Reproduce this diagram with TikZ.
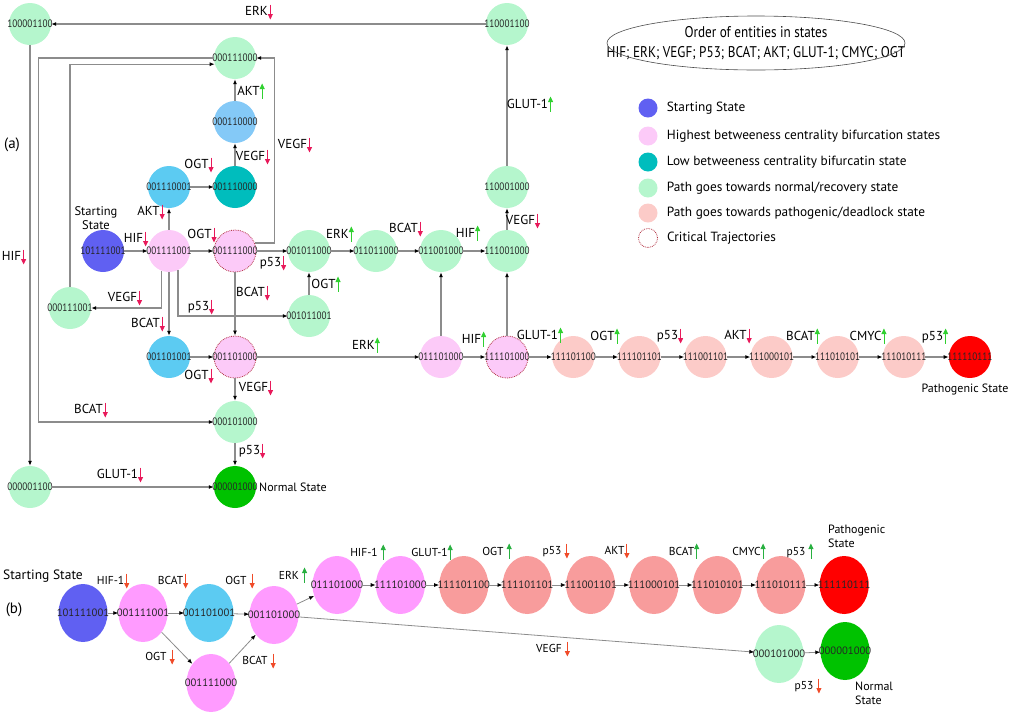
\documentclass[tikz,border=0pt]{standalone}
\usepackage{fontspec}
\setmainfont{PT Sans}
\newfontfamily\condfont[FakeStretch=0.85]{PT Sans}
\usetikzlibrary{shapes.geometric, arrows.meta, positioning}

\definecolor{startblue}{HTML}{6060F2}
\definecolor{pinka}{HTML}{FCCAF8}
\definecolor{pinkb}{HTML}{FF9BFF}
\definecolor{cyanst}{HTML}{5CCBF2}
\definecolor{lbluest}{HTML}{84C9F7}
\definecolor{tealst}{HTML}{00BDBD}
\definecolor{lgreen}{HTML}{B5F6CD}
\definecolor{lred}{HTML}{FCCBC8}
\definecolor{salmon}{HTML}{F89C9C}
\definecolor{redst}{HTML}{FF0000}
\definecolor{dgreen}{HTML}{00C200}
\definecolor{critred}{HTML}{B03040}
\definecolor{linkgray}{HTML}{8C8C8C}
\definecolor{dnred}{HTML}{E8195A}
\definecolor{dnorange}{HTML}{F04A28}
\definecolor{upgreen}{HTML}{30D030}
\definecolor{upgreenb}{HTML}{28B040}

% little up / down arrows after the entity names
\newcommand{\arrdn}[1][dnred]{\tikz[baseline=0pt]\draw[#1, line width=.9pt, -{Triangle[width=5pt, length=5.5pt]}] (0pt,11pt) -- (0pt,-4pt);}
\newcommand{\arrup}[1][upgreen]{\tikz[baseline=0pt]\draw[#1, line width=.8pt, -{Triangle[width=5pt, length=5.5pt]}] (0pt,-3pt) -- (0pt,12pt);}

\begin{document}
\begin{tikzpicture}[x=1pt, y=-1pt,
st/.style={circle, minimum size=42pt, inner sep=-3pt, text=black!85,
font=\condfont\fontsize{10.8}{11}\selectfont},
st-start/.style={st, fill=startblue},
st-pink/.style={st, fill=pinka},
st-cyan/.style={st, fill=cyanst},
st-lblue/.style={st, fill=lbluest},
st-teal/.style={st, fill=tealst},
st-green/.style={st, fill=lgreen},
st-lred/.style={st, fill=lred},
st-red/.style={st, fill=redst},
st-dgreen/.style={st, fill=dgreen},
crit/.style={draw=critred, densely dotted, line width=.8pt},
el/.style={ellipse, minimum width=49pt, minimum height=58pt, inner xsep=-9pt, inner ysep=0pt,
text=black!85, font=\fontsize{10.7}{11}\selectfont},
el-start/.style={el, fill=startblue},
el-pink/.style={el, fill=pinkb},
el-cyan/.style={el, fill=cyanst},
el-salmon/.style={el, fill=salmon},
el-red/.style={el, fill=redst},
el-green/.style={el, fill=lgreen},
el-dgreen/.style={el, fill=dgreen},
link/.style={draw=linkgray, line width=1.2pt, -{Latex[black, length=5pt, width=4pt]}},
link-b/.style={link, line width=.8pt},
lbl/.style={inner sep=0pt, font=\fontsize{13}{14}\selectfont},
lbl-b/.style={inner sep=0pt, font=\fontsize{11.5}{13}\selectfont},
txt/.style={inner sep=0pt, font=\fontsize{12}{14}\selectfont},
leg-dot/.style={circle, minimum size=19pt, inner sep=0pt},
leg-txt/.style={inner sep=0pt, font=\fontsize{13.3}{14}\selectfont}
]
\useasboundingbox (0,0) rectangle (1010,713);

% (a) states
\node [st-green] (a-100001100) at (30,24) {100001100};
\node [st-green] (a-110001100) at (507,24) {110001100};
\node [st-green] (a-000111000) at (235,58) {000111000};
\node [st-lblue] (a-000110000) at (235,122) {000110000};
\node [st-cyan] (a-001110001) at (169,187) {001110001};
\node [st-teal] (a-001110000) at (235,187) {001110000};
\node [st-green] (a-110001000) at (507,187) {110001000};
\node [st-start] (a-101111001) at (103,251) {101111001};
\node [st-pink] (a-001111001) at (169,251) {001111001};
\node [st-pink, crit] (a-001111000) at (235,251) {001111000};
\node [st-green] (a-001011000) at (309,251) {001011000};
\node [st-green] (a-011011000) at (376,251) {011011000};
\node [st-green] (a-011001000) at (441,251) {011001000};
\node [st-green] (a-111001000) at (507,251) {111001000};
\node [st-green] (a-000111001) at (70,308) {000111001};
\node [st-green] (a-001011001) at (309,316) {001011001};
\node [st-cyan] (a-001101001) at (169,357) {001101001};
\node [st-pink, crit] (a-001101000) at (235,357) {001101000};
\node [st-pink] (a-011101000) at (441,357) {011101000};
\node [st-pink, crit] (a-111101000) at (507,357) {111101000};
\node [st-lred, right=23.7pt of a-111101000] (a-111101100) {111101100};
\node [st-lred, right=23.7pt of a-111101100] (a-111101101) {111101101};
\node [st-lred, right=23.7pt of a-111101101] (a-111001101) {111001101};
\node [st-lred, right=23.7pt of a-111001101] (a-111000101) {111000101};
\node [st-lred, right=23.7pt of a-111000101] (a-111010101) {111010101};
\node [st-lred, right=23.7pt of a-111010101] (a-111010111) {111010111};
\node [st-red, right=23.7pt of a-111010111] (a-111110111) {111110111};
\node [st-green] (a-000101000) at (235,422) {000101000};
\node [st-green] (a-000001100) at (30,487) {000001100};
\node [st-dgreen] (a-000001000) at (235,487) {000001000};

\node [txt, font=\fontsize{15}{16}\selectfont] (a-tag) at (12,145) {(a)};
\node [txt, font=\fontsize{12.5}{14}\selectfont, align=center] (a-start-txt) at (96,218) {Starting\\State};
\node [txt, anchor=west] (a-normal-txt) at (259,487) {Normal State};
\node [txt] (a-patho-txt) at (965,389) {Pathogenic State};

% (a) transitions
\draw [link] (a-101111001) -- (a-001111001);
\draw [link] (a-001111001) -- (a-001111000);
\draw [link] (a-001111000) -- (a-001011000);
\draw [link] (a-001011000) -- (a-011011000);
\draw [link] (a-011011000) -- (a-011001000);
\draw [link] (a-011001000) -- (a-111001000);
\draw [link] (a-111001000) -- (a-110001000);
\draw [link] (a-110001000) -- (a-110001100);
\draw [link] (a-110001100) -- (a-100001100);
\draw [link] (a-100001100) -- (a-000001100);
\draw [link] (a-000001100) -- (a-000001000);
\draw [link] (a-000101000) -- (a-000001000);
\draw [link] (a-001101000) -- (a-000101000);
\draw [link] (a-001101001) -- (a-001101000);
\draw [link] (a-001111001) -- (a-001101001);
\draw [link] (a-001111000) -- (a-001101000);
\draw [link] (a-001111001) -- (a-001110001);
\draw [link] (a-001110001) -- (a-001110000);
\draw [link] (a-001110000) -- (a-000110000);
\draw [link] (a-000110000) -- (a-000111000);
\draw [link] (a-001111000.22) -- ++(20,0) |- (a-000111000);
\draw [link] (a-000111000.west) -- ++(-175,0) |- (a-000101000);
\draw [link] (a-000111001.north) |- (a-000111000.197);
\draw [link] (a-001111001.250) |- (a-000111001);
\draw [link] (a-001111001.295) |- (a-001011001);
\draw [link] (a-001011001) -- (a-001011000);
\draw [link] (a-001101000) -- (a-011101000);
\draw [link] (a-011101000) -- (a-111101000);
\draw [link] (a-011101000) -- (a-011001000);
\draw [link] (a-111101000) -- (a-111001000);
\draw [link] (a-111101000) -- (a-111101100);
\draw [link] (a-111101100) -- (a-111101101);
\draw [link] (a-111101101) -- (a-111001101);
\draw [link] (a-111001101) -- (a-111000101);
\draw [link] (a-111000101) -- (a-111010101);
\draw [link] (a-111010101) -- (a-111010111);
\draw [link] (a-111010111) -- (a-111110111);

% (a) labels
\node [lbl] (a-l-erk1) at (259,12) {ERK\arrdn};
\node [lbl] (a-l-hif1) at (14,257) {HIF\arrdn};
\node [lbl] (a-l-glut1) at (530,104) {GLUT-1\arrup};
\node [lbl] (a-l-vegf1) at (295,145) {VEGF\arrdn};
\node [lbl] (a-l-akt1) at (251,91) {AKT\arrup};
\node [lbl] (a-l-vegf2) at (253,157) {VEGF\arrdn};
\node [lbl] (a-l-ogt1) at (199,165) {OGT\arrdn};
\node [lbl] (a-l-akt2) at (151,212) {AKT\arrdn};
\node [lbl] (a-l-hif2) at (136,239) {HIF\arrdn};
\node [lbl] (a-l-ogt2) at (202,235) {OGT\arrdn};
\node [lbl] (a-l-erk2) at (340,234) {ERK\arrup};
\node [lbl] (a-l-bcat1) at (406,229) {BCAT\arrdn};
\node [lbl] (a-l-hif3) at (468,233) {HIF\arrup};
\node [lbl] (a-l-vegf3) at (523,221) {VEGF\arrdn};
\node [lbl] (a-l-p531) at (273,263) {p53\arrdn};
\node [lbl] (a-l-ogt3) at (326,284) {OGT\arrup};
\node [lbl] (a-l-bcat2) at (253,293) {BCAT\arrdn};
\node [lbl] (a-l-vegf4) at (125,298) {VEGF\arrdn};
\node [lbl] (a-l-p532) at (201,307) {p53\arrdn};
\node [lbl] (a-l-bcat3) at (148,324) {BCAT\arrdn};
\node [lbl] (a-l-ogt4) at (199,376) {OGT\arrdn};
\node [lbl] (a-l-vegf5) at (256,388) {VEGF\arrdn};
\node [lbl] (a-l-erk3) at (366,345) {ERK\arrup};
\node [lbl] (a-l-bcat4) at (91,410) {BCAT\arrdn};
\node [lbl] (a-l-p533) at (252,451) {p53\arrdn};
\node [lbl] (a-l-glut2) at (120,475) {GLUT-1\arrdn};
\node [lbl] (a-l-hif4) at (474,339) {HIF\arrup};
\node [lbl] (a-l-glut3) at (540,335) {GLUT-1\arrup};
\node [lbl] (a-l-ogt5) at (605,336) {OGT\arrup};
\node [lbl] (a-l-p534) at (670,336) {p53\arrdn};
\node [lbl] (a-l-akt3) at (738,336) {AKT\arrdn};
\node [lbl] (a-l-bcat5) at (803,336) {BCAT\arrup};
\node [lbl] (a-l-cmyc) at (868,336) {CMYC\arrup};
\node [lbl] (a-l-p535) at (935,336) {p53\arrup};

% legend
\node [inner sep=0pt, align=center, font=\condfont\fontsize{15.5}{20}\selectfont]
(order) at (756,43) {Order of entities in states\\HIF; ERK; VEGF; P53; BCAT; AKT; GLUT-1; CMYC; OGT};
\draw [black!70, line width=.6pt] (order.center) ellipse [x radius=149pt, y radius=27pt];
\node [leg-dot, fill=startblue] (leg-start) at (648,108) {};
\node [leg-dot, fill=pinka] (leg-pink) at (648,136) {};
\node [leg-dot, fill=tealst] (leg-teal) at (648,162) {};
\node [leg-dot, fill=lgreen] (leg-green) at (648,188) {};
\node [leg-dot, fill=lred] (leg-red) at (648,213) {};
\node [leg-dot, crit] (leg-crit) at (648,238) {};
\node [leg-txt, right=9pt of leg-start] (leg-start-txt) {Starting State};
\node [leg-txt, right=9pt of leg-pink] (leg-pink-txt) {Highest betweeness centrality bifurcation states};
\node [leg-txt, right=9pt of leg-teal] (leg-teal-txt) {Low betweeness centrality bifurcatin state};
\node [leg-txt, right=9pt of leg-green] (leg-green-txt) {Path goes towards normal/recovery state};
\node [leg-txt, right=9pt of leg-red] (leg-red-txt) {Path goes towards pathogenic/deadlock state};
\node [leg-txt, right=9pt of leg-crit] (leg-crit-txt) {Critical Trajectories};

% (b) states
\node [el-start] (b-101111001) at (83,613) {101111001};
\node [el-pink] (b-001111001) at (143,613) {001111001};
\node [el-cyan] (b-001101001) at (209,613) {001101001};
\node [el-pink] (b-001101000) at (274,615) {001101000};
\node [el-pink] (b-001111000) at (211,683) {001111000};
\node [el-pink] (b-011101000) at (337,585) {011101000};
\node [el-pink, right=14pt of b-011101000] (b-111101000) {111101000};
\node [el-salmon, right=14pt of b-111101000] (b-111101100) {111101100};
\node [el-salmon, right=14pt of b-111101100] (b-111101101) {111101101};
\node [el-salmon, right=14pt of b-111101101] (b-111001101) {111001101};
\node [el-salmon, right=14pt of b-111001101] (b-111000101) {111000101};
\node [el-salmon, right=14pt of b-111000101] (b-111010101) {111010101};
\node [el-salmon, right=14pt of b-111010101] (b-111010111) {111010111};
\node [el-red, right=14pt of b-111010111] (b-111110111) {111110111};
\node [el-green] (b-000101000) at (779,654) {000101000};
\node [el-dgreen] (b-000001000) at (845,651) {000001000};

\node [txt, font=\fontsize{15}{16}\selectfont] (b-tag) at (14,610) {(b)};
\node [txt, font=\fontsize{13.5}{15}\selectfont] (b-start-txt) at (43,576) {Starting State};
\node [txt, align=left, anchor=west] (b-patho-txt) at (828,536) {Pathogenic\\State};
\node [txt, align=left, anchor=west] (b-normal-txt) at (855,693) {Normal\\State};

% (b) transitions
\draw [link-b] (b-101111001) -- (b-001111001);
\draw [link-b] (b-001111001) -- (b-001101001);
\draw [link-b] (b-001101001) -- (b-001101000);
\draw [link-b] (b-001111001) -- (b-001111000);
\draw [link-b] (b-001111000) -- (b-001101000);
\draw [link-b] (b-001101000) -- (b-011101000);
\draw [link-b] (b-011101000) -- (b-111101000);
\draw [link-b] (b-111101000) -- (b-111101100);
\draw [link-b] (b-111101100) -- (b-111101101);
\draw [link-b] (b-111101101) -- (b-111001101);
\draw [link-b] (b-111001101) -- (b-111000101);
\draw [link-b] (b-111000101) -- (b-111010101);
\draw [link-b] (b-111010101) -- (b-111010111);
\draw [link-b] (b-111010111) -- (b-111110111);
\draw [link-b] (b-001101000) -- (b-000101000);
\draw [link-b] (b-000101000) -- (b-000001000);

% (b) labels
\node [lbl-b] (b-l-hif1) at (113,581) {HIF-1\arrdn[dnorange]};
\node [lbl-b] (b-l-bcat1) at (173,581) {BCAT\arrdn[dnorange]};
\node [lbl-b] (b-l-ogt1) at (240,581) {OGT \arrdn[dnorange]};
\node [lbl-b] (b-l-ogt2) at (160,657) {OGT \arrdn[dnorange]};
\node [lbl-b] (b-l-bcat2) at (259,661) {BCAT \arrdn[dnorange]};
\node [lbl-b] (b-l-erk) at (293,575) {ERK \arrup[upgreenb]};
\node [lbl-b] (b-l-hif2) at (368,552) {HIF-1 \arrup[upgreenb]};
\node [lbl-b] (b-l-glut) at (432,552) {GLUT-1\arrup[upgreenb]};
\node [lbl-b] (b-l-ogt3) at (497,551) {OGT \arrup[upgreenb]};
\node [lbl-b] (b-l-p531) at (556,551) {p53 \arrdn[dnorange]};
\node [lbl-b] (b-l-akt) at (617,551) {AKT\arrdn[dnorange]};
\node [lbl-b] (b-l-bcat3) at (684,551) {BCAT\arrup[upgreenb]};
\node [lbl-b] (b-l-cmyc) at (749,551) {CMYC\arrup[upgreenb]};
\node [lbl-b] (b-l-p532) at (800,551) {p53 \arrup[upgreenb]};
\node [lbl-b] (b-l-vegf) at (553,649) {VEGF \arrdn[dnorange]};
\node [lbl-b] (b-l-p533) at (808,686) {p53 \arrdn[dnorange]};

\end{tikzpicture}
\end{document}
